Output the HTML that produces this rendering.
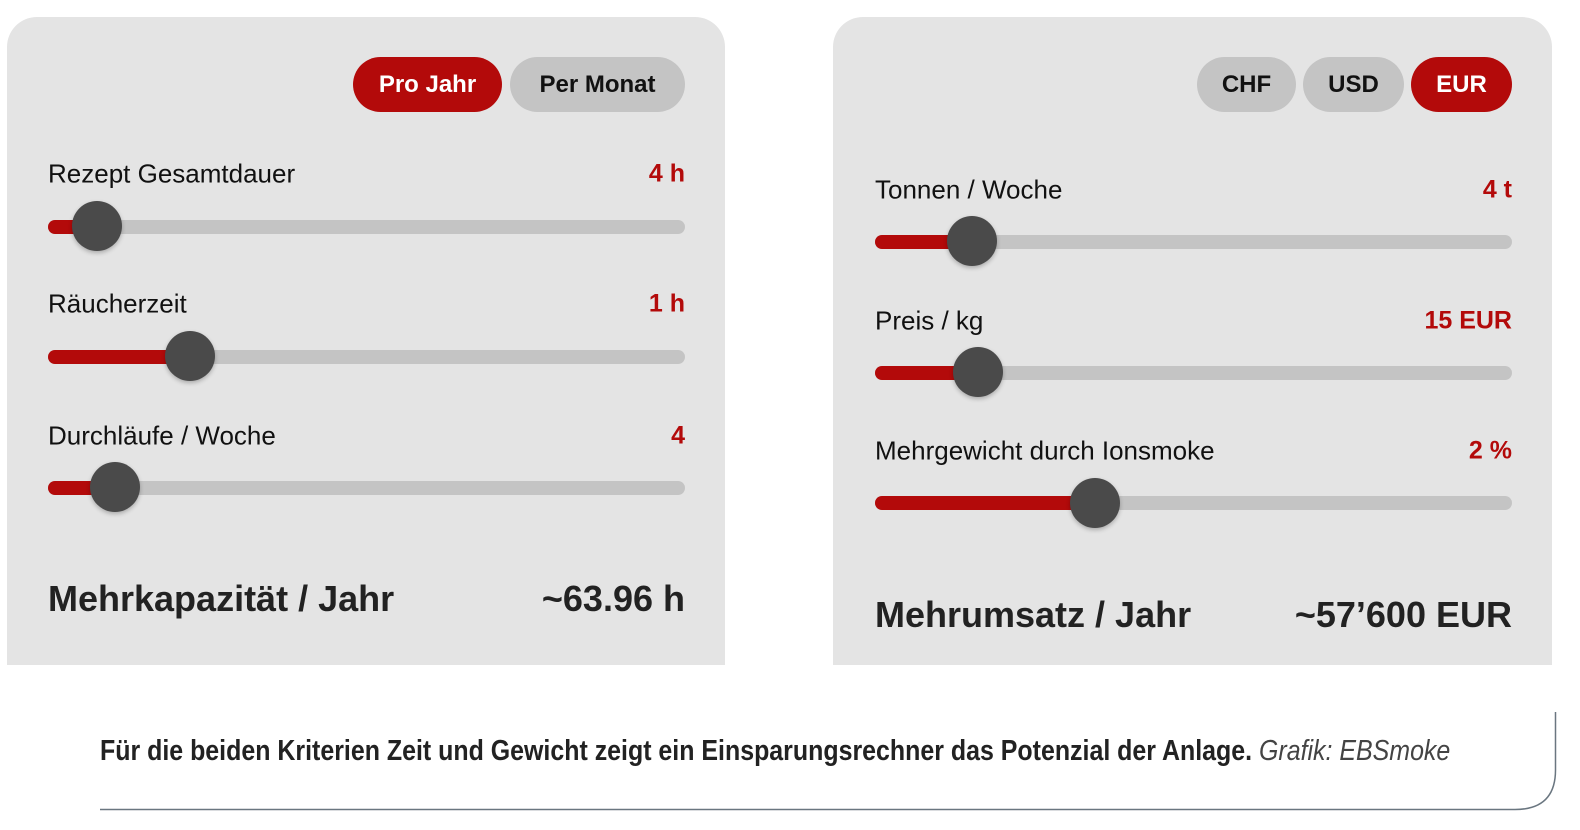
<!DOCTYPE html>
<html><head><style>
body{margin:0;width:1580px;height:830px;background:#fff;position:relative;overflow:hidden;font-family:"Liberation Sans",sans-serif}
.p{position:absolute;top:17px;height:648px;background:#e4e4e4;border-radius:30px 30px 0 0}
.a{position:absolute}
.btn{position:absolute;height:55px;border-radius:28px;font-weight:bold;font-size:24px;line-height:55px;text-align:center;color:#111;background:#c4c4c4}
.on{background:#b30a0a;color:#fff}
.lab{position:absolute;font-size:26px;color:#111;transform:translateY(-50%)}
.val{position:absolute;font-size:25px;color:#b30a0a;font-weight:bold;transform:translateY(-50%);text-align:right}
.tr{position:absolute;height:14px;border-radius:7px;background:#c4c4c4;width:637px}
.fl{position:absolute;height:14px;border-radius:7px 0 0 7px;background:#b30a0a}
.th{position:absolute;width:50px;height:50px;border-radius:50%;background:#4a4a4a;box-shadow:0 2px 4px rgba(0,0,0,.25)}
.res{position:absolute;font-size:36px;font-weight:bold;color:#222;transform:translateY(-50%)}
</style></head><body>
<div class="p" style="left:7px;width:718px"></div>
<div class="p" style="left:833px;width:719px"></div>

<div class="btn on" style="left:353px;top:57px;width:149px">Pro Jahr</div>
<div class="btn" style="left:510px;top:57px;width:175px">Per Monat</div>

<div class="lab" style="left:48px;top:174px">Rezept Gesamtdauer</div>
<div class="val" style="right:895px;top:174px">4 h</div>
<div class="tr" style="left:48px;top:220px"></div><div class="fl" style="left:48px;top:220px;width:50px"></div><div class="th" style="left:72px;top:201px"></div>

<div class="lab" style="left:48px;top:304px">Räucherzeit</div>
<div class="val" style="right:895px;top:304px">1 h</div>
<div class="tr" style="left:48px;top:350px"></div><div class="fl" style="left:48px;top:350px;width:142px"></div><div class="th" style="left:165px;top:331px"></div>

<div class="lab" style="left:48px;top:436px">Durchläufe / Woche</div>
<div class="val" style="right:895px;top:436px">4</div>
<div class="tr" style="left:48px;top:481px"></div><div class="fl" style="left:48px;top:481px;width:67px"></div><div class="th" style="left:90px;top:462px"></div>

<div class="res" style="left:48px;top:599px">Mehrkapazität / Jahr</div>
<div class="res" style="right:895px;top:599px">~63.96 h</div>

<div class="btn" style="left:1197px;top:57px;width:99px">CHF</div>
<div class="btn" style="left:1303px;top:57px;width:101px">USD</div>
<div class="btn on" style="left:1411px;top:57px;width:101px">EUR</div>

<div class="lab" style="left:875px;top:190px">Tonnen / Woche</div>
<div class="val" style="right:68px;top:190px">4 t</div>
<div class="tr" style="left:875px;top:235px"></div><div class="fl" style="left:875px;top:235px;width:97px"></div><div class="th" style="left:947px;top:216px"></div>

<div class="lab" style="left:875px;top:321px">Preis / kg</div>
<div class="val" style="right:68px;top:321px">15 EUR</div>
<div class="tr" style="left:875px;top:366px"></div><div class="fl" style="left:875px;top:366px;width:103px"></div><div class="th" style="left:953px;top:347px"></div>

<div class="lab" style="left:875px;top:451px">Mehrgewicht durch Ionsmoke</div>
<div class="val" style="right:68px;top:451px">2 %</div>
<div class="tr" style="left:875px;top:496px"></div><div class="fl" style="left:875px;top:496px;width:220px"></div><div class="th" style="left:1070px;top:478px"></div>

<div class="res" style="left:875px;top:615px">Mehrumsatz / Jahr</div>
<div class="res" style="right:68px;top:615px">~57’600 EUR</div>

<div class="a" style="left:100px;top:735px;font-size:29px;color:#222;white-space:nowrap;transform:scaleX(0.86);transform-origin:0 0"><b>Für die beiden Kriterien Zeit und Gewicht zeigt ein Einsparungsrechner das Potenzial der Anlage.</b> <i style="color:#444">Grafik: EBSmoke</i></div>
<svg class="a" style="left:0;top:0" width="1580" height="830"><path d="M100 809.5 H1515 Q1555.5 809.5 1555.5 770 V712" fill="none" stroke="#6a7680" stroke-width="1.5"/></svg>
</body></html>
